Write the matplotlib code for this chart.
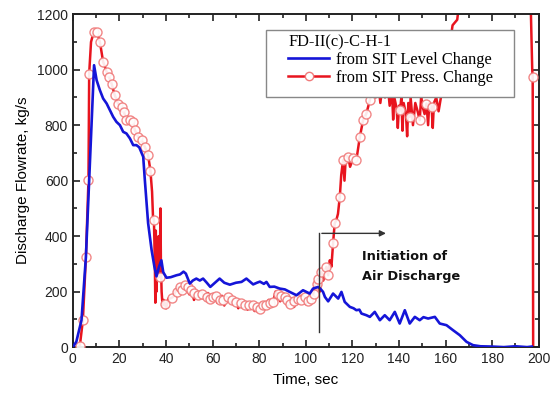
import matplotlib
matplotlib.use("Agg")
import matplotlib.pyplot as plt
from matplotlib.lines import Line2D
from matplotlib.patches import Rectangle
from matplotlib.ticker import MultipleLocator

# ---- data ----
blue_t = [0, 1.5, 3.7, 5.6, 7.5, 9.1, 10.2, 11.6, 13, 14.5, 15.9, 17.3, 18.7, 20.2, 21.6, 23, 24.5,
          25.9, 27.3, 28.5, 29.5, 30.2, 30.9, 32.3, 33.8, 35.0, 35.9, 37.0, 38.0, 38.8, 40.2, 42,
          44.5, 46, 47.5, 48.5, 50.2, 51.5, 53, 54.5, 55.9, 57.5, 59, 61, 63, 65, 67.4, 70, 72.4,
          74.5, 77.4, 79, 80.3, 82, 83.1, 84.5, 86.5, 88.8, 91, 93.1, 96, 98.8, 101.7, 103.1,
          105.3, 106.3, 107.4, 108.2, 109.6, 111.7, 113.9, 115.3, 116.7, 118.9, 120.5, 121.7,
          123, 123.9, 126, 127.5, 129.6, 131.8, 133.9, 136, 138.2, 140.3, 142.5, 144.6, 146.8,
          148.9, 150.5, 152.5, 155.4, 157.5, 160.4, 163.2, 166.1, 169, 171.8, 175, 180, 185,
          190, 195, 197]
blue_v = [0, 20, 97, 325, 700, 1016, 962, 926, 896, 878, 854, 830, 812, 800, 776, 770, 752,
          728, 728, 720, 700, 686, 602, 447, 350, 290, 255, 290, 313, 270, 250, 252,
          259, 262, 272, 265, 229, 240, 247, 240, 247, 232, 217, 232, 247, 232, 225, 232, 235,
          247, 226, 232, 236, 228, 235, 217, 218, 211, 208, 199, 187, 205, 193, 211,
          217, 210, 199, 181, 165, 193, 175, 199, 163, 145, 140, 133,
          135, 121, 115, 109, 127, 97, 115, 97, 127, 85, 133, 85, 109,
          97, 108, 103, 109, 85, 79, 61, 43, 19, 7, 3, 2, 0,
          3, 0, 2]

red_t = [2.3, 3, 4.3, 5.6, 6.7, 7.0, 7.8, 8.9, 10.4, 11.6, 13, 14.5, 15.5, 16.6, 18, 19.4, 20.9,
         21.9, 23, 24.5, 25.9, 26.6, 28, 29.5, 30.9, 32.3, 33.3, 34.0, 34.4, 34.8, 35.2, 35.4,
         35.6, 35.9, 36.2, 36.5, 36.8, 37.0, 37.3, 37.6, 37.8, 38.1, 38.5, 39.0, 39.5, 40,
         41, 42, 43, 44, 45, 46, 47, 48, 49, 50, 51, 52, 53, 54, 55, 56, 57, 58, 59, 60, 61,
         62, 63, 64, 65, 66, 67, 68, 69, 70, 71, 72, 73, 74, 75, 76, 77, 78, 79, 80, 81, 82,
         83, 84, 85, 86, 87, 88, 89, 90, 91, 92, 93, 94, 95, 96, 97, 98, 99, 100, 101, 102,
         103, 104, 104.6, 105.3, 106, 106.7, 107.5, 108.8, 109.6, 110.3, 111, 111.7, 112.4,
         113.1, 113.8, 114.6, 115.2, 116, 116.6, 117.2, 118.2, 119, 120.3, 121.7, 122.5, 123.2,
         124.6, 126, 127.5, 128.5, 129, 130, 131, 132, 133, 134, 135, 136, 137, 137.5, 138,
         139, 139.5, 140, 140.5, 141, 141.5, 142, 143, 143.5, 144, 144.6, 145, 146, 147, 148,
         148.9, 149.5, 150, 151, 151.8, 152.5, 153, 154, 154.5, 155, 156, 157, 158, 159, 160,
         162, 163, 165, 166, 196.5, 197.2, 197.4, 197.6]
red_v = [0, 5, 97, 324, 602, 986, 1100, 1134, 1134, 1100, 1028, 992, 974, 950, 908, 878, 866,
         848, 818, 818, 812, 782, 758, 746, 722, 692, 635, 560, 470, 458, 300, 160,
         420, 200, 380, 250, 400, 270, 253, 500, 300, 200, 150, 170, 157, 140,
         175, 176, 181, 199, 215, 217, 200, 223, 210, 190, 205, 170, 195, 187, 200, 175, 181,
         195, 165, 181, 190, 160, 169, 185, 150, 181, 175, 160, 175, 163, 140, 165, 151, 160,
         135, 155, 151, 130, 150, 139, 160, 140, 151, 170, 155, 163, 200, 193, 165, 190, 181,
         150, 157, 175, 145, 175, 165, 185, 181, 155, 175, 175, 185, 229, 229, 247, 200, 271,
         240, 289, 259, 313, 290, 374, 446, 458, 480, 542, 620, 674, 600, 690, 686, 650, 680,
         674, 720, 758, 818, 842, 890, 930, 950, 900, 960, 880, 950, 900, 960, 870, 920, 820,
         900, 860, 790, 870, 854, 900, 780, 880, 840, 760, 880, 830, 900, 800, 880, 850, 818,
         900, 870, 840, 878, 800, 880, 866, 790, 880, 900, 850, 900, 950, 1000, 1100, 1160,
         1180, 1250, 1250, 1000, 973, 0]

mk_t = [3, 4.3, 5.6, 6.7, 7.0, 8.9, 10.4, 11.6, 13, 14.5, 15.5, 16.6, 18, 19.4, 20.9, 21.9, 23,
        24.5, 25.9, 26.6, 28, 29.5, 30.9, 32.3, 33.3, 34.8, 37.3, 39.5, 42.4, 44.5, 45.9, 47,
        48, 49.5, 50.9, 52, 53.8, 55.5, 57.4, 58.8, 60.2, 61.5, 63, 64.5, 66.6, 68.5, 70.2, 72,
        73.8, 75.5, 77.4, 79, 80.3, 81.7, 83.1, 84.5, 86, 88.1, 89.5, 91, 92, 93.1, 95, 96.7,
        98, 99.6, 101, 102.4, 103.5, 104.6, 105.3, 106.7, 108.8, 109.6, 111.7, 112.4, 114.6,
        116, 118.2, 120.3, 121.7, 123.2, 124.6, 126, 127.5, 140.3, 144.6, 148.9, 151.8, 154,
        197.4]
mk_v = [5, 97, 324, 602, 986, 1134, 1134, 1100, 1028, 992, 974, 950, 908, 878, 866, 848, 818,
        818, 812, 782, 758, 746, 722, 692, 635, 458, 253, 157, 176, 199, 217, 205,
        223, 215, 205, 195, 187, 190, 181, 175, 181, 185, 169, 170, 181, 170, 163, 160,
        151, 150, 151, 145, 139, 150, 151, 160, 163, 193, 185, 181, 170, 157, 165, 175,
        170, 181, 165, 175, 190, 229, 247, 271, 289, 259, 374, 446, 542,
        674, 686, 680, 674, 758, 818, 842, 890, 854, 830, 818, 878, 866,
        973]

legend_title = "FD-II(c)-C-H-1"
label_blue = "from SIT Level Change"
label_red = "from SIT Press. Change"

# ---- figure ----
fig = plt.figure(figsize=(5.52, 3.94), dpi=100)
ax = fig.add_axes([0.132, 0.119, 0.844, 0.845])

red = "#e8141e"
blue = "#1515d8"
ax.plot(red_t, red_v, color=red, lw=1.8, zorder=2)
ax.plot(mk_t, mk_v, linestyle="none", marker="o", ms=6.5, mfc="white",
        mec="#f07a7a", mew=1.0, alpha=0.9, zorder=3)
ax.plot(blue_t, blue_v, color=blue, lw=1.9, zorder=4)

ax.set_xlim(0, 200)
ax.set_ylim(0, 1200)
ax.xaxis.set_major_locator(MultipleLocator(20))
ax.xaxis.set_minor_locator(MultipleLocator(10))
ax.yaxis.set_major_locator(MultipleLocator(200))
ax.yaxis.set_minor_locator(MultipleLocator(100))
ax.tick_params(which="both", direction="in", top=True, right=True, width=1.2,
               labelsize=10, colors="#222222")
ax.tick_params(which="major", length=5)
ax.tick_params(which="minor", length=3)
for lab in ax.get_xticklabels() + ax.get_yticklabels():
    lab.set_fontfamily("Liberation Sans")
for s in ax.spines.values():
    s.set_linewidth(1.4)
    s.set_color("#222222")

ax.set_xlabel("Time, sec", fontsize=11, family="Liberation Sans", labelpad=5)
ax.set_ylabel("Discharge Flowrate, kg/s", fontsize=11, family="Liberation Sans", labelpad=5)

# annotation
ax.plot([105.7, 105.7], [55, 410], color="#333333", lw=1.0, zorder=5)
ax.annotate("", xy=(135.6, 410), xytext=(105.7, 410),
            arrowprops=dict(arrowstyle="-|>", color="#333333", lw=1.0, mutation_scale=9),
            zorder=5)
ax.text(124.3, 325, "Initiation of", fontsize=9.3, fontweight="bold",
        family="DejaVu Sans", ha="left", va="center", color="#111111")
ax.text(124.3, 253, "Air Discharge", fontsize=9.3, fontweight="bold",
        family="DejaVu Sans", ha="left", va="center", color="#111111")

# legend box + legend
ax.add_patch(Rectangle((0.414, 0.751), 0.532, 0.201, transform=ax.transAxes,
                       facecolor="white", edgecolor="#888888", lw=1.0, zorder=9))
handles = [Line2D([], [], color=blue, lw=1.9),
           Line2D([], [], color=red, lw=1.8, marker="o", ms=6, mfc="white", mec="#f07a7a")]
leg = ax.legend(handles, [label_blue, label_red], title=legend_title,
                loc="upper left", bbox_to_anchor=(0.462, 0.94),
                prop={"family": "Liberation Serif", "size": 11.8},
                title_fontproperties={"family": "Liberation Serif", "size": 11.8},
                frameon=False, handlelength=2.5, handletextpad=0.4, borderpad=0,
                labelspacing=0.12, borderaxespad=0)
leg._legend_box.align = "left"
leg.set_zorder(10)

fig.savefig("out.png", dpi=100)
